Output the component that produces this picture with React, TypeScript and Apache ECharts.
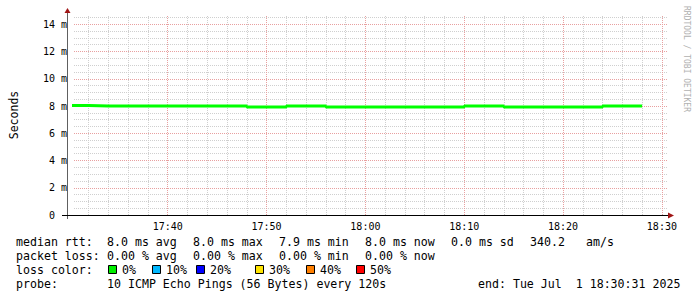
import React, { useEffect, useRef } from "react";
import * as echarts from "echarts";

// ---- data ----
const startTime = "17:30:31";
const endTime = "18:30:31";
const firstStep = "17:30";
const stepSeconds = 120;
const xTickLabels = ["17:40", "17:50", "18:00", "18:10", "18:20", "18:30"];
const yTickValues = [0, 2, 4, 6, 8, 10, 12, 14];

// median rtt (ms) per 2-minute step
const median = [8.03, 8.0, 8.0, 8.0, 8.0, 8.0, 8.0, 8.0, 8.0, 7.93, 7.93, 8.0, 8.0, 7.93, 7.93, 7.93, 7.93, 7.93, 7.93, 7.93, 8.0, 8.0, 7.93, 7.93, 7.93, 7.93, 7.93, 8.0, 8.0];
// light smoke (max / min of pings)
const smokeHi = [8.2, 8.04, 8.04, 8.04, 8.04, 8.2, 8.04, 8.04, 8.04, 7.97, 8.13, 8.04, 8.2, 7.97, 7.97, 7.97, 7.97, 7.97, 7.97, 7.97, 8.21, 8.19, 7.97, 8.14, 7.97, 7.97, 7.97, 8.2, 8.19];
const smokeLo = [7.99, 7.82, 7.96, 7.96, 7.96, 7.96, 7.96, 7.96, 7.96, 7.89, 7.89, 7.96, 7.96, 7.89, 7.89, 7.89, 7.89, 7.89, 7.89, 7.89, 7.96, 7.96, 7.89, 7.89, 7.89, 7.89, 7.89, 7.82, 7.96];
// darker smoke
const darkHi = [8.03, 8.0, 8.0, 8.0, 8.0, 8.0, 8.0, 8.19, 8.19, 7.93, 7.93, 8.0, 8.0, 7.93, 7.93, 7.93, 7.93, 7.93, 7.93, 7.93, 8.0, 8.0, 7.93, 7.93, 7.93, 7.93, 7.93, 8.0, 8.0];

const legendRows = [
  { label: "median rtt:", items: ["8.0 ms avg", "8.0 ms max", "7.9 ms min", "8.0 ms now", "0.0 ms sd", "340.2", "am/s"] },
  { label: "packet loss:", items: ["0.00 % avg", "0.00 % max", "0.00 % min", "0.00 % now"] },
];
const lossColors = ["#00ee00", "#00b8ff", "#0000ff", "#ffe400", "#ff7f00", "#ff0000"];
const lossLabels = ["0%", "10%", "20%", "30%", "40%", "50%"];
const probeText = "10 ICMP Echo Pings (56 Bytes) every 120s";
const endText = "end: Tue Jul  1 18:30:31 2025";

// ---- helpers ----
const toSec = (s: string) => {
  const p = s.split(":").map(Number);
  return p[0] * 3600 + p[1] * 60 + (p[2] || 0);
};
const fmt = (v: number) => {
  const h = Math.floor(v / 3600);
  const m = Math.round((v - h * 3600) / 60);
  return `${h}:${m < 10 ? "0" : ""}${m}`;
};

const FONT = "DejaVu Sans Mono";

export default function App() {
  const ref = useRef<HTMLDivElement>(null);
  useEffect(() => {
    if (!ref.current) return;
    const chart = echarts.init(ref.current, undefined, { renderer: "svg" });
    const xMin = toSec(startTime);
    const xMax = toSec(endTime);
    const t0 = toSec(firstStep);
    const times = median.map((_, i) => t0 + i * stepSeconds);
    const tEnd = t0 + median.length * stepSeconds;
    const withEnd = (arr: number[]) => [
      ...arr.map((v, i) => [times[i], v]),
      [tEnd, arr[arr.length - 1]],
    ];

    const bandLightDiff = smokeHi.map((v, i) => +(v - smokeLo[i]).toFixed(3));
    const bandDarkDiff = darkHi.map((v, i) => +(v - median[i]).toFixed(3));

    // grid lines
    const minorX: number[] = [];
    const majorX: number[] = [];
    for (let t = Math.ceil(xMin / 120) * 120; t <= xMax; t += 120) {
      if (t % 600 === 0) majorX.push(t);
      else minorX.push(t);
    }
    const minorY: number[] = [];
    const majorY: number[] = [];
    for (let k = 1; k <= 29; k++) {
      const v = k * 0.5;
      if (k % 4 === 0) majorY.push(v);
      else minorY.push(v);
    }
    const minorStyle = { color: "#cfcfcf", width: 1, type: [1, 1] as any };
    const majorStyle = { color: "#e8a0a0", width: 1, type: [1, 1] as any };
    const ml = (vals: number[], key: string, style: any) => ({
      silent: true,
      symbol: ["none", "none"],
      label: { show: false },
      animation: false,
      lineStyle: style,
      emphasis: { disabled: true },
      data: vals.map((v) => ({ [key]: v })),
    });
    const gridSeries = (name: string, markLine: any) => ({
      name,
      type: "line",
      data: [[xMin, 0]],
      symbol: "none",
      lineStyle: { opacity: 0 },
      z: 1,
      silent: true,
      markLine,
    });

    const stepLine = (name: string, data: any, stack: string, extra: any) => ({
      name,
      type: "line",
      step: "end",
      stack,
      symbol: "none",
      data,
      lineStyle: { width: 0, opacity: 0 },
      silent: true,
      ...extra,
    });

    const txt = (x: number, y: number, text: string) => ({
      type: "text",
      x,
      y,
      style: { text, fill: "#000", font: `11.6px ${FONT}`, verticalAlign: "middle" },
    });

    chart.setOption({
      animation: false,
      backgroundColor: "#ffffff",
      grid: { left: 67, right: 30, top: 15, bottom: 82, containLabel: false },
      xAxis: {
        type: "value",
        min: xMin,
        max: xMax,
        axisLine: { show: false },
        axisTick: { show: false, customValues: xTickLabels.map(toSec) },
        splitLine: { show: false },
        axisLabel: {
          customValues: xTickLabels.map(toSec),
          formatter: (v: number) => fmt(v),
          fontFamily: FONT,
          fontSize: 10,
          color: "#000",
          margin: 6,
        },
      },
      yAxis: {
        type: "value",
        min: 0,
        max: 14.68,
        name: "Seconds",
        nameLocation: "middle",
        nameGap: 54,
        nameRotate: 90,
        nameTextStyle: { fontFamily: FONT, fontSize: 11.5, color: "#000" },
        axisLine: { show: false },
        axisTick: { show: false, customValues: yTickValues },
        splitLine: { show: false },
        axisLabel: {
          customValues: yTickValues,
          formatter: (v: number) => (v === 0 ? "{z|0}" : `${v} m`),
          rich: { z: { fontFamily: FONT, fontSize: 10, color: "#000", padding: [0, 12, 0, 0] } },
          fontFamily: FONT,
          fontSize: 10,
          color: "#000",
          margin: 7,
        },
      },
      series: [
        gridSeries("gridMinorX", ml(minorX, "xAxis", minorStyle)),
        gridSeries("gridMinorY", ml(minorY, "yAxis", minorStyle)),
        gridSeries("gridMajorX", ml(majorX, "xAxis", majorStyle)),
        gridSeries("gridMajorY", ml(majorY, "yAxis", majorStyle)),
        stepLine("lightBase", withEnd(smokeLo), "light", { z: 2 }),
        stepLine("lightBand", withEnd(bandLightDiff), "light", {
          z: 2,
          areaStyle: { color: "#b4b4b4", opacity: 1 },
        }),
        stepLine("darkBase", withEnd(median), "dark", { z: 3 }),
        stepLine("darkBand", withEnd(bandDarkDiff), "dark", {
          z: 3,
          areaStyle: { color: "#707070", opacity: 1 },
        }),
        {
          name: "median rtt",
          type: "line",
          step: "end",
          symbol: "none",
          data: withEnd(median),
          lineStyle: { color: "#00ff00", width: 3 },
          z: 5,
          silent: true,
        },
      ],
      graphic: [
        // axes
        { type: "line", shape: { x1: 67.5, y1: 219, x2: 67.5, y2: 12 }, style: { stroke: "#606060", lineWidth: 1 }, z: 10 },
        { type: "line", shape: { x1: 62, y1: 215.5, x2: 669, y2: 215.5 }, style: { stroke: "#000", lineWidth: 1 }, z: 10 },
        { type: "polygon", shape: { points: [[64.5, 13], [70.5, 13], [67.5, 8]] }, style: { fill: "#a01515" }, z: 11 },
        { type: "polygon", shape: { points: [[668, 212.5], [668, 218.5], [674, 215.5]] }, style: { fill: "#a01515" }, z: 11 },
        // watermark
        {
          type: "text",
          x: 686,
          y: 59,
          rotation: -Math.PI / 2,
          style: { text: "RRDTOOL / TOBI OETIKER", fill: "#b0b0b0", font: `8px ${FONT}`, align: "center", verticalAlign: "middle" },
        },
        // legend rows
        ...legendRows.flatMap((row, r) => {
          const y = 241.5 + r * 14;
          const xs = [107, 193, 279, 365, 451, 530, 586];
          return [txt(16, y, row.label), ...row.items.map((t, i) => txt(xs[i], y, t))];
        }),
        txt(16, 269.5, "loss color:"),
        ...lossColors.flatMap((c, i) => {
          const bx = [108, 152, 196, 255, 306, 356][i];
          return [
            { type: "rect", shape: { x: bx + 0.5, y: 265.5, width: 8, height: 8 }, style: { fill: c, stroke: "#000", lineWidth: 1 } },
            txt(bx + 14, 269.5, lossLabels[i]),
          ];
        }),
        txt(16, 283.5, "probe:"),
        txt(107, 283.5, probeText),
        txt(478, 283.5, endText),
      ],
    });
    return () => chart.dispose();
  }, []);
  return <div ref={ref} style={{ position: "absolute", left: 0, top: 0, width: 697, height: 297 }} />;
}
